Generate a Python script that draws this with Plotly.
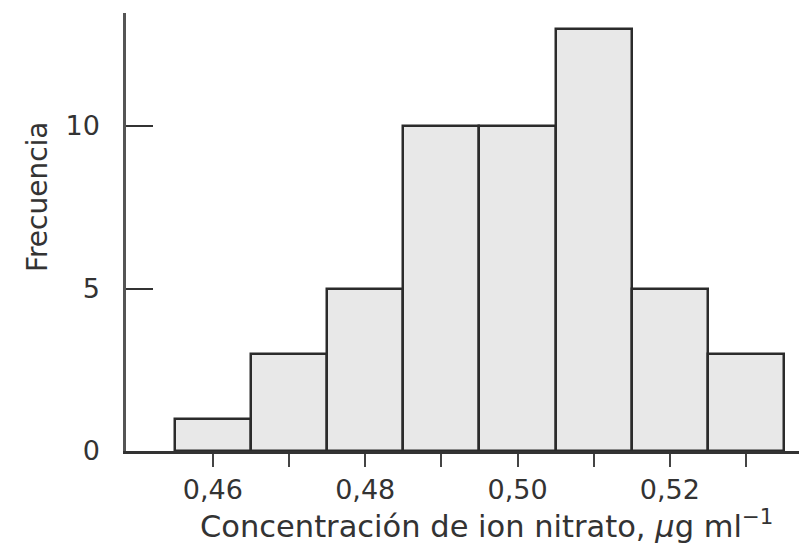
import plotly.graph_objects as go

# Data
bin_centers = [0.46, 0.47, 0.48, 0.49, 0.50, 0.51, 0.52, 0.53]
frequencies = [1, 3, 5, 10, 10, 13, 5, 3]
x_tick_vals = [0.46, 0.48, 0.50, 0.52]
x_tick_text = ["0,46", "0,48", "0,50", "0,52"]
x_minor_vals = [0.47, 0.49, 0.51, 0.53]
y_tick_vals = [0, 5, 10]
y_tick_text = ["0", "5", "10"]

FONT = "DejaVu Sans"

fig = go.Figure()
fig.add_trace(go.Bar(
    x=bin_centers, y=frequencies, width=0.01,
    marker=dict(color="#e8e8e8", line=dict(color="#2b2b2b", width=2.5)),
    showlegend=False,
))

fig.update_layout(
    width=799, height=536,
    margin=dict(l=118, r=0, t=5, b=93),
    paper_bgcolor="white", plot_bgcolor="white",
    bargap=0,
    font=dict(family=FONT, color="#333333"),
    xaxis=dict(
        range=[0.4486, 0.5380],
        showgrid=False, zeroline=False,
        showline=True, linecolor="#333333", linewidth=2.5,
        tickvals=x_tick_vals, ticktext=x_tick_text,
        ticks="outside", ticklen=13, tickwidth=2, tickcolor="#444444",
        tickfont=dict(size=27, family=FONT, color="#333333"),
        minor=dict(tickvals=x_minor_vals, ticks="outside", ticklen=13,
                   tickwidth=2, tickcolor="#444444"),
    ),
    yaxis=dict(
        range=[0, 13.477],
        showgrid=False, zeroline=False,
        showline=True, linecolor="#555555", linewidth=2.5,
        tickvals=y_tick_vals, ticktext=y_tick_text,
        ticks="inside", ticklen=27, tickwidth=2, tickcolor="#333333",
        tickfont=dict(size=27, family=FONT, color="#333333"),
        ticklabelstandoff=18,
    ),
    annotations=[
        dict(text="Concentración de ion nitrato, <i>μ</i>g ml<sup>−1</sup>",
             xref="paper", yref="paper", x=0.530, y=-0.1667,
             xanchor="center", yanchor="middle", showarrow=False,
             font=dict(size=30.5, family=FONT, color="#333333")),
        dict(text="Frecuencia", textangle=-90,
             xref="paper", yref="paper", x=-0.129, y=0.58,
             xanchor="center", yanchor="middle", showarrow=False,
             font=dict(size=28, family=FONT, color="#333333")),
    ],
)

fig.write_html("out.html")
